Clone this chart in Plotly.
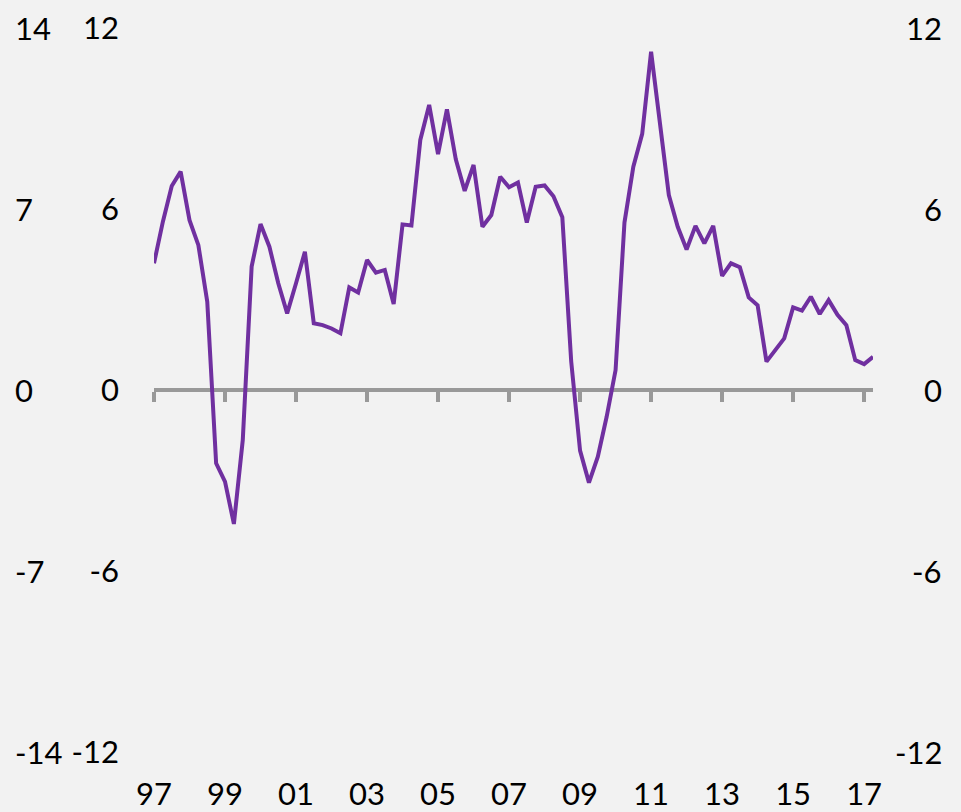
import plotly.graph_objects as go

# Quarterly series, 1997Q1 .. 2017Q2 (index 0..81)
values = [4.2, 5.58, 6.76, 7.24, 5.63, 4.8, 2.93, -2.43, -3.04, -4.44,
          -1.66, 4.09, 5.5, 4.75, 3.54, 2.54, 3.54, 4.58, 2.21, 2.15,
          2.04, 1.88, 3.4, 3.23, 4.31, 3.89, 3.98, 2.85, 5.49, 5.45,
          8.29, 9.45, 7.82, 9.3, 7.65, 6.6, 7.46, 5.41, 5.8, 7.07,
          6.72, 6.88, 5.55, 6.74, 6.78, 6.42, 5.73, 0.95, -2.01, -3.07,
          -2.21, -0.88, 0.66, 5.55, 7.4, 8.49, 11.21, 8.73, 6.46, 5.41,
          4.66, 5.44, 4.86, 5.44, 3.78, 4.2, 4.07, 3.07, 2.81, 0.94,
          1.33, 1.71, 2.74, 2.63, 3.09, 2.52, 2.98, 2.49, 2.15, 0.99,
          0.86, 1.1]
x_index = list(range(len(values)))

x_tick_positions = [0, 8, 16, 24, 32, 40, 48, 56, 64, 72, 80]
x_tick_labels = ["97", "99", "01", "03", "05", "07", "09", "11", "13", "15", "17"]

inner_ticks = [-12, -6, 0, 6, 12]
outer_ticks = [-14, -7, 0, 7, 14]
right_ticks = [-12, -6, 0, 6, 12]

BG = "#f2f2f2"
LINE = "#7030a0"
AXIS = "#999999"
FONT = dict(family="Lato, 'Open Sans', sans-serif", size=31, color="#000000")

fig = go.Figure()
fig.add_trace(go.Scatter(x=x_index, y=values, mode="lines",
                         line=dict(color=LINE, width=4),
                         showlegend=False, hoverinfo="skip"))

# invisible helper traces to activate secondary axes
fig.add_trace(go.Scatter(x=[0], y=[0], xaxis="x2", yaxis="y", mode="none",
                         showlegend=False, hoverinfo="skip"))
fig.add_trace(go.Scatter(x=[0], y=[0], xaxis="x", yaxis="y2", mode="none",
                         showlegend=False, hoverinfo="skip"))
fig.add_trace(go.Scatter(x=[0], y=[0], xaxis="x", yaxis="y3", mode="none",
                         showlegend=False, hoverinfo="skip"))

W, H = 961, 812
ml, mr, mt, mb = 154, 88, 28, 60
plot_w = W - ml - mr

annotations = []
for v in outer_ticks:
    annotations.append(dict(x=(13 - ml) / plot_w, xref="paper", y=v, yref="y3",
                            text=str(v), showarrow=False, xanchor="left",
                            yanchor="middle", font=FONT))
for v in right_ticks:
    annotations.append(dict(x=1 + (944 - (W - mr)) / plot_w, xref="paper", y=v, yref="y2",
                            text=str(v), showarrow=False, xanchor="right",
                            yanchor="middle", font=FONT))

fig.update_layout(
    width=W, height=H,
    margin=dict(l=ml, r=mr, t=mt, b=mb, pad=0, autoexpand=False),
    paper_bgcolor=BG, plot_bgcolor=BG,
    font=FONT,
    showlegend=False,
    xaxis=dict(range=[0, 81], tickmode="array", tickvals=x_tick_positions,
               ticktext=x_tick_labels, showline=False, showgrid=False,
               zeroline=False, ticks="", ticklabelstandoff=21,
               tickfont=FONT, automargin=False),
    xaxis2=dict(range=[0, 81], overlaying="x", anchor="free", position=0.5,
                tickmode="array", tickvals=x_tick_positions,
                showticklabels=False, showline=True, linecolor=AXIS,
                linewidth=3.5, ticks="outside", ticklen=10, tickwidth=4,
                tickcolor=AXIS, showgrid=False, zeroline=False,
                layer="below traces", automargin=False),
    yaxis=dict(range=[-12, 12], tickmode="array", tickvals=inner_ticks,
               ticktext=[str(v) for v in inner_ticks],
               showgrid=False, zeroline=False, showline=False, ticks="",
               ticklabelstandoff=34, tickfont=FONT, automargin=False),
    yaxis2=dict(range=[-12, 12], overlaying="y", side="right",
                showticklabels=False, showgrid=False, zeroline=False,
                showline=False, ticks="", automargin=False),
    yaxis3=dict(range=[-14, 14], overlaying="y", side="left",
                showticklabels=False, showgrid=False, zeroline=False,
                showline=False, ticks="", automargin=False),
    annotations=annotations,
)

fig.write_html("out.html", config={"displayModeBar": False},
               post_script="document.body.style.margin='0';")
